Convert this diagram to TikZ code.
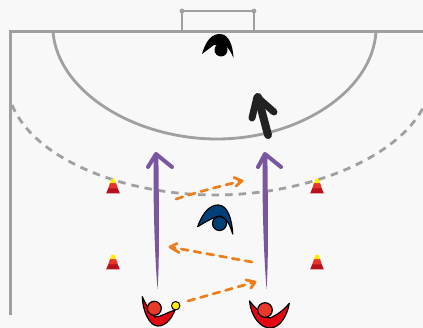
\documentclass[tikz,border=0pt]{standalone}
\usetikzlibrary{arrows.meta}
\definecolor{bgc}{HTML}{F8F8F8}
\definecolor{courtc}{HTML}{A0A0A0}
\definecolor{purp}{HTML}{7A569F}
\definecolor{orng}{HTML}{EE7D1C}
\definecolor{navy}{HTML}{004079}
\definecolor{redp}{HTML}{E30613}
\definecolor{heads}{HTML}{E8392A}
\definecolor{conea}{HTML}{B5121B}
\definecolor{coneb}{HTML}{E5352B}
\definecolor{coney}{HTML}{FFED00}
\definecolor{blk}{HTML}{222222}
\tikzset{
  court/.style={draw=courtc,line width=3pt},
  courtthin/.style={draw=courtc,line width=2.8pt},
  pass/.style={draw=orng,line width=2.7pt,dash pattern=on 7pt off 6pt,line cap=round},
  passhead/.style={draw=orng,line width=2.8pt,line cap=round,line join=round},
  runhead/.style={draw=purp,line width=4pt,line cap=round,line join=round},
  playerline/.style={draw=black,line width=1.2pt,line join=round},
}
\newcommand{\cone}[1]{%
  \begin{scope}[shift={(#1)}]
    \fill[conea] (-6.8,7.3) -- (-4.6,2) -- (4.6,2) -- (6.8,7.3) -- cycle;
    \fill[coneb] (-4.8,2.4) -- (-3,-3) -- (3,-3) -- (4.8,2.4) -- cycle;
    \fill[coney] (-3,-2.8) -- (-1.6,-7) -- (1.6,-7) -- (3,-2.8) -- cycle;
  \end{scope}}
\begin{document}
\begin{tikzpicture}[x=1pt,y=-1pt]
\useasboundingbox (0,0) rectangle (423,328);
\fill[bgc] (0,0) rectangle (423,328);
% court
\coordinate (cornerTop) at (10,32);
\draw[court] (10,315) -- (cornerTop) -- (423,32);
\draw[courtthin] (182,32) -- (182,11) -- (254,11) -- (254,32);
\fill[courtc] (182,11) circle (2.4pt) (254,11) circle (2.4pt);
\draw[courtthin] (53,32) .. controls (58,92) and (135,139) .. (217,139) .. controls (298,139) and (372,92) .. (376,32);
\draw[draw=courtc,line width=2.8pt,dash pattern=on 7.5pt off 6pt] (12,105) .. controls (35,160) and (125,195) .. (215,195) .. controls (305,195) and (395,160) .. (423,108);
% cones
\cone{113,186}
\cone{317,186}
\cone{113,262}
\cone{317,262}
% runs (tapered strokes)
\coordinate (r1a) at (157.5,289); \coordinate (r1b) at (156,154);
\coordinate (r2a) at (266.5,289); \coordinate (r2b) at (265,154);
\fill[purp] (r1a) .. controls (155.5,265) and (153,215) .. (153.6,156) -- (158.4,156) .. controls (159,215) and (159.5,265) .. cycle;
\draw[runhead] (148,167) -- (r1b) -- (172,167);
\fill[purp] (r2a) .. controls (264.5,265) and (262,215) .. (262.6,156) -- (267.4,156) .. controls (268,215) and (268.5,265) .. cycle;
\draw[runhead] (258,167) -- (r2b) -- (281,167);
% black run
\coordinate (b1a) at (268,135); \coordinate (b1b) at (258,97);
\draw[draw=blk,line width=8pt,line cap=round,line join=round] (b1a) -- (b1b);
\draw[draw=blk,line width=7pt,line cap=round,line join=round] (252,118) -- (257,97) -- (274,112);
% passes
\coordinate (p1a) at (176,199); \coordinate (p1b) at (242,181);
\coordinate (p2a) at (252,262); \coordinate (p2b) at (170,247);
\coordinate (p3a) at (188,301); \coordinate (p3b) at (255,282);
\draw[pass] (p1a) .. controls (198,192) and (220,186) .. (p1b);
\draw[passhead] (234,177.5) -- (p1b) -- (236,186);
\draw[pass] (p2a) -- (p2b);
\draw[passhead] (177,243.5) -- (p2b) -- (179,252.5);
\draw[pass] (p3a) -- (p3b);
\draw[passhead] (246,280) -- (p3b) -- (251,288);
% black player
\fill[black] (202,54) .. controls (206,40) and (212,34) .. (220,34) .. controls (229,34) and (233,46) .. (233.5,58) .. controls (231,52) and (229,49) .. (226,46) -- (221,46) -- (214,45) -- cycle;
\fill[black] (221,50) circle (6.5pt);
% blue player
\filldraw[playerline,fill=navy] (197.7,226.7) .. controls (203,211) and (211,205) .. (218,205) .. controls (228,205) and (232,220) .. (232.7,234) .. controls (230,225) and (227,218) .. (220,216) .. controls (214,217) and (205,222) .. (197.7,226.7) -- cycle;
\filldraw[playerline,fill=navy] (219.5,223.5) circle (7pt);
% red player 1
\filldraw[playerline,fill=redp] (142.3,296.7) .. controls (143,313) and (150,326) .. (158,326) .. controls (166,326) and (172,318) .. (175,310) .. controls (168,312) and (161,317) .. (155,317) .. controls (150,312) and (146,305) .. (142.3,296.7) -- cycle;
\filldraw[playerline,fill=heads] (154.3,308.3) circle (7pt);
\filldraw[draw=black,line width=1pt,fill=coney] (175.7,305.7) circle (4.2pt);
% red player 2
\filldraw[playerline,fill=redp] (249.5,301) .. controls (251,316) and (260,328) .. (270,328) .. controls (280,328) and (287,316) .. (289.3,303.3) .. controls (284,310) and (277,315) .. (270,318) .. controls (263,316) and (256,309) .. (249.5,301) -- cycle;
\filldraw[playerline,fill=heads] (265,310) circle (7.3pt);
\end{tikzpicture}
\end{document}
